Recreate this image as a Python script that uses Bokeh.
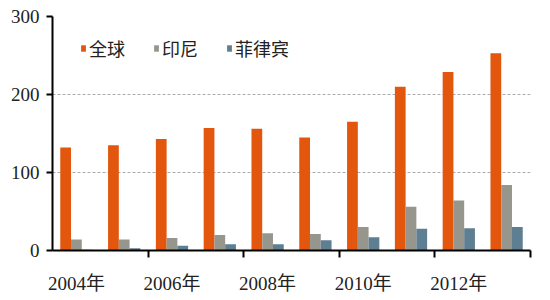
from bokeh.plotting import figure
from bokeh.models import FixedTicker, Range1d, Legend, LegendItem
from bokeh.embed import file_html
from bokeh.resources import INLINE

years = ["2004年", "2005年", "2006年", "2007年", "2008年", "2009年", "2010年", "2011年", "2012年", "2013年"]
series_names = ["全球", "印尼", "菲律宾"]
global_vals = [132, 135, 143, 157, 156, 145, 165, 210, 229, 253]
indonesia_vals = [14, 14, 16, 20, 22, 21, 30, 56, 64, 84]
philippines_vals = [1, 3, 6, 8, 8, 13, 17, 28, 28.5, 30]
colors = ["#E2560E", "#97968C", "#5E7E92"]
y_ticks = [0, 100, 200, 300]

FONT = "'Liberation Serif', 'Noto Sans CJK SC'"

p = figure(width=550, height=300, output_backend="svg", toolbar_location=None,
           x_range=Range1d(0, len(years)), y_range=Range1d(0, 300))
p.min_border_left = 52
p.min_border_right = 20
p.min_border_top = 16
p.min_border_bottom = 50
p.outline_line_color = None
p.background_fill_color = "white"
p.border_fill_color = "white"

offsets = [-0.225, 0.0, 0.225]
renderers = []
for vals, off, col in zip([global_vals, indonesia_vals, philippines_vals], offsets, colors):
    xs = [i + 0.5 + off for i in range(len(years))]
    r = p.vbar(x=xs, top=vals, width=0.225, fill_color=col, line_color=None)
    renderers.append(r)

# axes
xaxis = p.xaxis[0]
label_pos = [i + 0.5 for i in range(0, len(years), 2)]
xaxis.ticker = FixedTicker(ticks=label_pos, minor_ticks=[2, 4, 6, 8, 10])
xaxis.major_label_overrides = {pos: years[int(pos - 0.5)] for pos in label_pos}
xaxis.major_tick_line_color = None
xaxis.minor_tick_line_color = "black"
xaxis.minor_tick_line_width = 2
xaxis.minor_tick_out = 7
xaxis.minor_tick_in = 0
xaxis.axis_line_color = "black"
xaxis.axis_line_width = 2
xaxis.major_label_text_font = FONT
xaxis.major_label_text_font_size = "19px"
xaxis.major_label_text_color = "#222222"
xaxis.major_label_standoff = 15

yaxis = p.yaxis[0]
yaxis.ticker = FixedTicker(ticks=y_ticks)
yaxis.minor_tick_line_color = None
yaxis.major_tick_line_color = "black"
yaxis.major_tick_line_width = 2
yaxis.major_tick_out = 6
yaxis.major_tick_in = 0
yaxis.axis_line_color = "black"
yaxis.axis_line_width = 2
yaxis.major_label_text_font = FONT
yaxis.major_label_text_font_size = "19px"
yaxis.major_label_text_color = "#222222"
yaxis.major_label_standoff = 7

p.xgrid.grid_line_color = None
p.ygrid.ticker = FixedTicker(ticks=[100, 200, 300])
p.ygrid.grid_line_color = "#AAAAAA"
p.ygrid.grid_line_dash = "3 2"
p.ygrid.grid_line_width = 1

legend = Legend(items=[LegendItem(label=n, renderers=[r]) for n, r in zip(series_names, renderers)],
                orientation="horizontal", location=(28, 189))
legend.label_text_font = FONT
legend.label_text_font_size = "18px"
legend.label_text_color = "#222222"
legend.glyph_width = 6
legend.glyph_height = 8
legend.label_standoff = 3
legend.spacing = 28
legend.padding = 0
legend.margin = 0
legend.border_line_color = None
legend.background_fill_alpha = 0
p.add_layout(legend, "center")

open("out.html", "w").write(file_html(p, INLINE))
